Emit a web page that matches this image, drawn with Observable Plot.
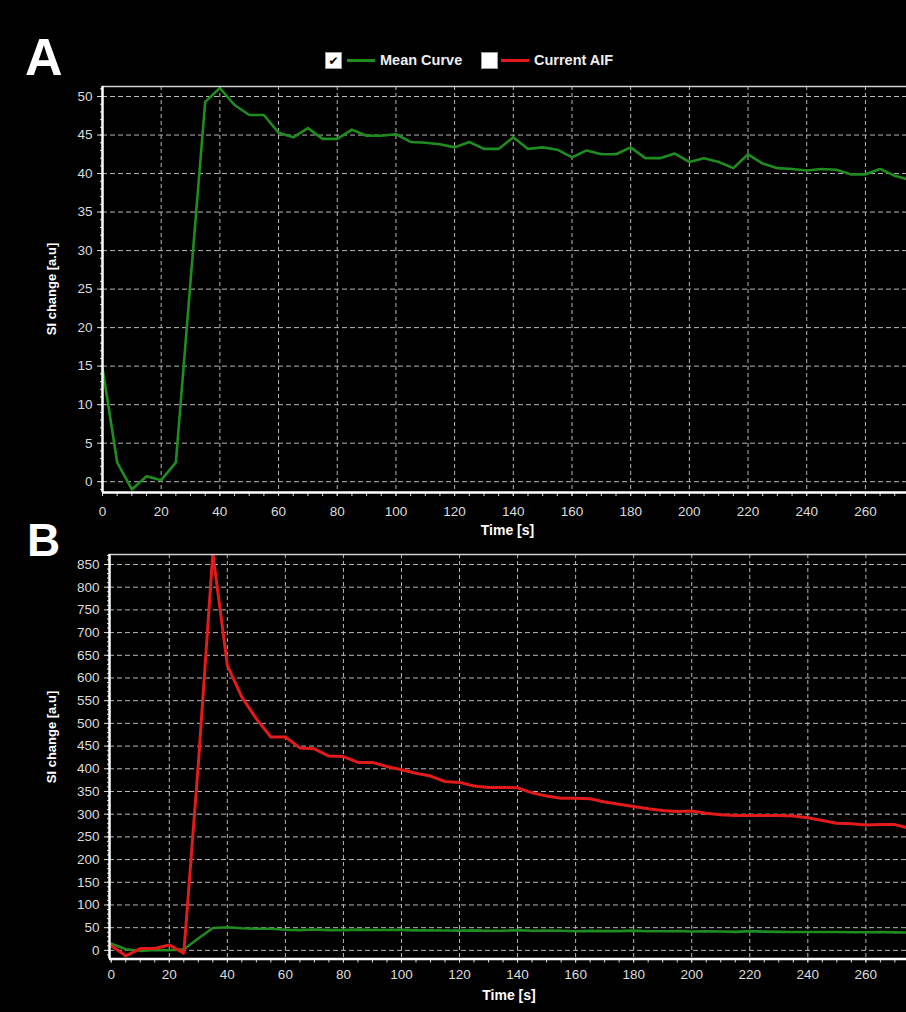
<!DOCTYPE html>
<html><head><meta charset="utf-8">
<script src="https://cdn.jsdelivr.net/npm/d3@7"></script>
<script src="https://cdn.jsdelivr.net/npm/@observablehq/plot@0.6"></script>
<style>
html,body{margin:0;padding:0;background:#000;}
#wrap{position:relative;width:906px;height:1012px;overflow:hidden;background:#000;font-family:"Liberation Sans",Arial,sans-serif;color:#fff;}
.abs{position:absolute;white-space:nowrap;line-height:0;}
.panel{position:absolute;left:0;}
.box{position:absolute;width:15px;height:15px;border:1px solid #9a9a9a;background:#fff;box-sizing:content-box;display:flex;align-items:center;justify-content:center;line-height:1;}
.leg{position:absolute;height:2.5px;}
</style></head><body>
<div id="wrap">
  <div class="abs" style="left:25px;top:56.5px;font-size:52px;font-weight:bold;">A</div>
  <div class="abs" style="left:27px;top:539.5px;font-size:46px;font-weight:bold;">B</div>
  <div class="box" style="left:325px;top:52px;font:bold 12px 'DejaVu Sans';color:#000;">✔</div>
  <div class="leg" style="left:347px;top:59px;width:28px;background:#1e8c1e;"></div>
  <div class="abs" style="left:380px;top:60px;font-size:14.5px;font-weight:bold;color:#eee;">Mean Curve</div>
  <div class="box" style="left:481px;top:52px;"></div>
  <div class="leg" style="left:501px;top:59px;width:28px;background:#e21a1a;"></div>
  <div class="abs" style="left:534px;top:60px;font-size:14.5px;font-weight:bold;color:#eee;">Current AIF</div>
  <div id="pa" class="panel" style="top:76px;"></div>
  <div id="pb" class="panel" style="top:540px;"></div>
  <div class="abs" style="left:52px;top:289px;font-size:13px;font-weight:bold;transform-origin:0 0;transform:rotate(-90deg) translate(-50%,0);">SI change [a.u]</div>
  <div class="abs" style="left:51.5px;top:737px;font-size:13px;font-weight:bold;transform-origin:0 0;transform:rotate(-90deg) translate(-50%,0);">SI change [a.u]</div>
  <div class="abs" style="left:507.5px;top:530px;font-size:14px;font-weight:bold;transform:translate(-50%,0);">Time [s]</div>
  <div class="abs" style="left:509px;top:995px;font-size:14px;font-weight:bold;transform:translate(-50%,0);">Time [s]</div>
</div>
<script>
// Time samples (s)
const time = [0,5,10,15,20,25,30,35,40,45,50,55,60,65,70,75,80,85,90,95,100,105,110,115,120,125,130,135,140,145,150,155,160,165,170,175,180,185,190,195,200,205,210,215,220,225,230,235,240,245,250,255,260,265,270,275];
// Mean Curve (green)
const meanCurve = [14.8,2.5,-1.0,0.7,0.2,2.5,26,49.3,51.1,48.9,47.6,47.6,45.3,44.7,45.9,44.5,44.5,45.7,44.9,44.9,45.1,44.1,44.0,43.8,43.4,44.1,43.2,43.2,44.7,43.2,43.4,43.1,42.1,43.0,42.5,42.5,43.4,42.0,42.0,42.6,41.5,42.0,41.5,40.7,42.5,41.3,40.7,40.6,40.4,40.6,40.5,39.9,39.9,40.6,39.7,39.2];
// Current AIF (red)
const currentAIF = [10,-12,4,4,12,-6,410,875,628,558,510,470,470,446,444,428,427,414,414,405,398,390,384,372,370,362,359,359,358,347,340,335,335,334,327,322,317,312,308,306,307,302,299,297,297,297,297,296,292,286,280,279,276,277,277,269];

const xTicks = [0,20,40,60,80,100,120,140,160,180,200,220,240,260];
const xMinor = d3.range(0, 275, 5);
const yTicksA = [0,5,10,15,20,25,30,35,40,45,50];
const yMinorA = d3.range(-1, 52, 1);
const yTicksB = [0,50,100,150,200,250,300,350,400,450,500,550,600,650,700,750,800,850];
const yMinorB = d3.range(-10, 872, 10);

const data = time.map((t, i) => ({t, mean: meanCurve[i], aif: currentAIF[i]}));

const green = "#1e8c1e", red = "#e21a1a", gridColor = "#b8b8b8";

function panel({xDomain, yDomain, yTicks, yMinor, marginLeft, marginTop, marginBottom, xPad, series}) {
  return Plot.plot({
    width: 906, height: 470, marginTop, marginBottom, marginLeft, marginRight: 0,
    style: {background: "transparent", color: "#dcdcdc", fontFamily: "Liberation Sans, Arial, sans-serif", fontSize: "13.5px", overflow: "visible"},
    x: {domain: xDomain, axis: null},
    y: {domain: yDomain, axis: null},
    marks: [
      Plot.gridX(xTicks.filter(d => d > 0), {stroke: gridColor, strokeOpacity: 1, strokeDasharray: "4,3"}),
      Plot.gridY(yTicks, {stroke: gridColor, strokeOpacity: 1, strokeDasharray: "5,3"}),
      Plot.axisX(xMinor, {tickSize: 4, tickFormat: () => "", label: null}),
      Plot.axisX(xTicks, {tickSize: 4, tickPadding: xPad, label: null}),
      Plot.axisY(yMinor, {tickSize: 2, tickFormat: () => "", label: null}),
      Plot.axisY(yTicks, {tickSize: 5, tickPadding: 5, label: null}),
      ...series.map(s => Plot.line(data, {x: "t", y: s.key, stroke: s.color, strokeWidth: s.width, strokeLinejoin: "round", clip: true})),
      Plot.ruleY([yDomain[1]], {stroke: "#d0d0d0", strokeWidth: 1.5}),
      Plot.ruleX([xDomain[0]], {stroke: "#fff", strokeWidth: 2.5}),
      Plot.ruleY([yDomain[0]], {stroke: "#fff", strokeWidth: 2.5})
    ]
  });
}

document.getElementById("pa").append(panel({
  xDomain: [0, 274], yDomain: [-1.4, 51.3], yTicks: yTicksA, yMinor: yMinorA,
  marginLeft: 102, marginTop: 10, marginBottom: 54, xPad: 10,
  series: [{key: "mean", color: green, width: 2.6}]
}));
document.getElementById("pb").append(panel({
  xDomain: [-0.6, 274], yDomain: [-19, 872], yTicks: yTicksB, yMinor: yMinorB,
  marginLeft: 109, marginTop: 14, marginBottom: 51.5, xPad: 6,
  series: [{key: "mean", color: green, width: 2.6}, {key: "aif", color: red, width: 3}]
}));
</script>
</body></html>
